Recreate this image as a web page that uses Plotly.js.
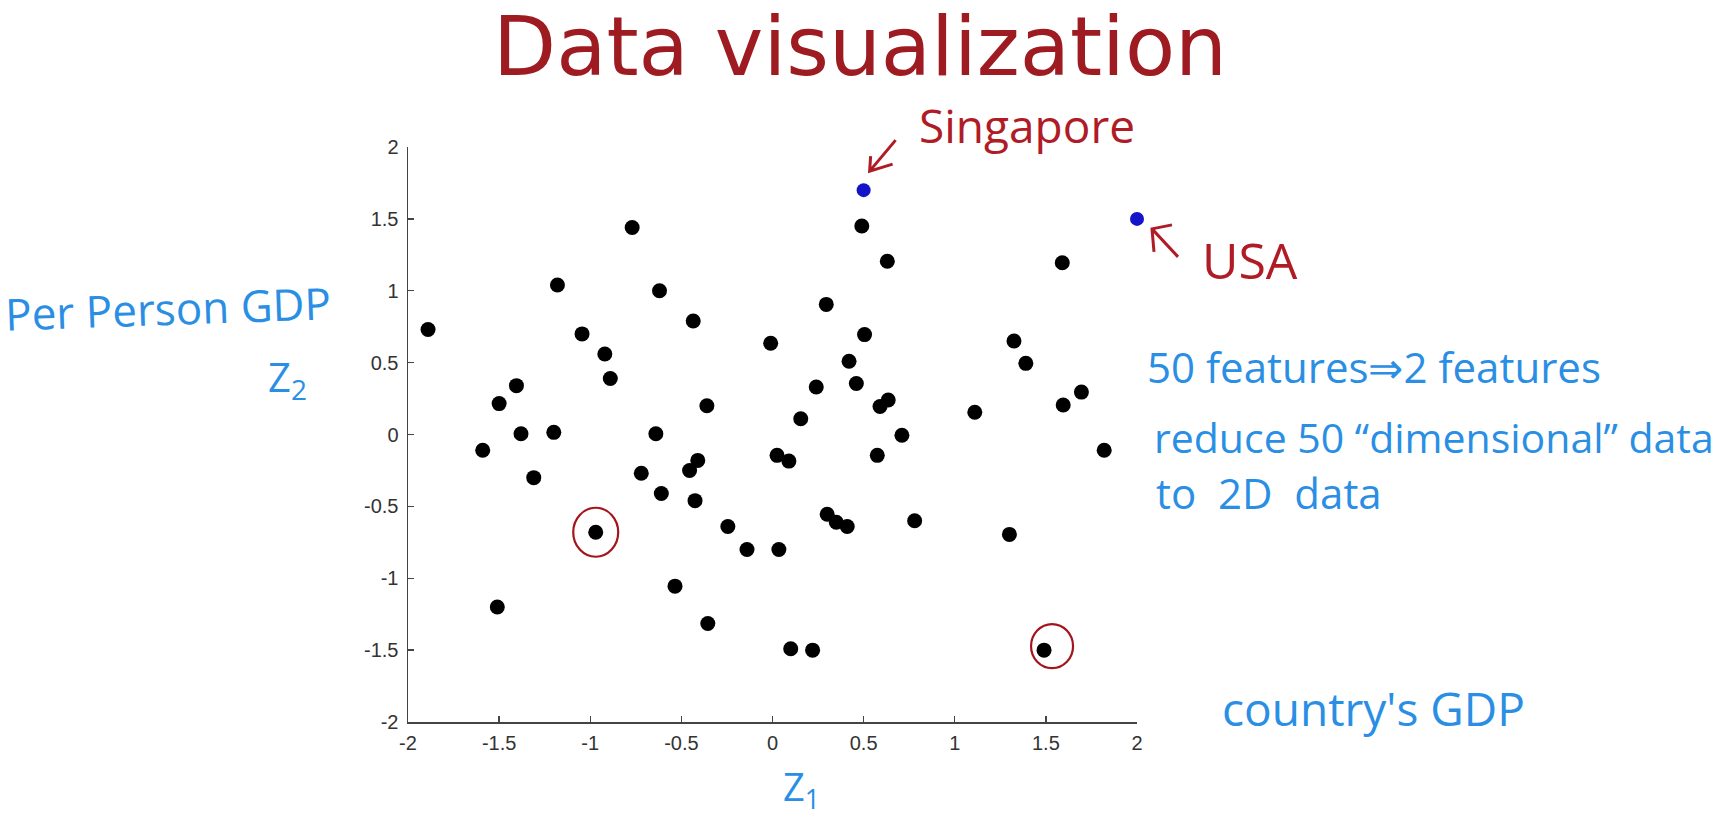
<!DOCTYPE html>
<html>
<head>
<meta charset="utf-8">
<script src="https://cdn.plot.ly/plotly-3.0.1.min.js"></script>
<style>html,body{margin:0;padding:0;background:#fff;}#chart{width:1726px;height:819px;}</style>
</head>
<body>
<div id="chart"></div>
<script>
// Data: reduced 2D coordinates (z1, z2) of countries
const z1 = [-1.89,-0.77,-1.18,-0.62,-0.435,-1.045,-0.92,-0.89,-1.405,-1.50,-0.36,-0.01,-1.38,-1.20,-0.64,-1.59,-1.31,-0.72,-0.41,-0.455,-0.61,-0.425,-0.97,-0.245,-0.14,-1.51,-0.535,-0.355,0.49,0.63,1.59,0.295,0.505,0.42,0.46,0.24,0.155,0.635,0.59,1.11,1.325,1.39,1.595,1.695,0.71,0.025,0.09,0.575,1.82,0.30,0.35,0.41,0.78,1.30,0.035,0.10,0.22,1.49];
const z2 = [0.73,1.44,1.04,1.00,0.79,0.70,0.56,0.39,0.34,0.215,0.20,0.635,0.005,0.015,0.005,-0.11,-0.30,-0.27,-0.18,-0.25,-0.41,-0.46,-0.68,-0.64,-0.80,-1.20,-1.055,-1.315,1.45,1.205,1.195,0.905,0.695,0.51,0.355,0.33,0.11,0.24,0.195,0.155,0.65,0.495,0.205,0.295,-0.005,-0.145,-0.185,-0.145,-0.11,-0.555,-0.61,-0.64,-0.60,-0.695,-0.80,-1.49,-1.50,-1.50];
const highlightNames = ["Singapore", "USA"];
const highlightZ1 = [0.5, 2.0];
const highlightZ2 = [1.7, 1.5];
const circledIdx = [22, 57];
const axisRange = [-2, 2];
const tickVals = [-2,-1.5,-1,-0.5,0,0.5,1,1.5,2];
const tickText = ["-2","-1.5","-1","-0.5","0","0.5","1","1.5","2"];

const blue = "#2a8fe4";
const red = "#b01c26";
const hand = "Open Sans, sans-serif";

const traces = [
  {x: z1, y: z2, type: "scatter", mode: "markers", cliponaxis: false,
   marker: {color: "#000", size: 15, line: {width: 0}}, hoverinfo: "x+y"},
  {x: highlightZ1, y: highlightZ2, text: highlightNames, type: "scatter", mode: "markers", cliponaxis: false,
   marker: {color: "#1414c8", size: 14, line: {width: 0}}, hoverinfo: "text"}
];

function P(px){ return (px - 408) / 729; }
function Q(py){ return (722 - py) / 575; }
// data value -> paper fraction (axes span the whole plot area)
function toPaper(v){ return (v - axisRange[0]) / (axisRange[1] - axisRange[0]); }

const annotations = [
  {text: "Data visualization", xref: "paper", yref: "paper", x: P(860), y: Q(46), xanchor: "center", yanchor: "middle",
   showarrow: false, font: {family: "DejaVu Sans, sans-serif", size: 82, color: "#9d1b21"}},
  {text: "Per Person GDP", xref: "paper", yref: "paper", x: P(2), y: Q(308), xanchor: "left", yanchor: "middle",
   showarrow: false, textangle: -2, font: {family: hand, size: 44, color: blue}},
  {text: "Z<sub>2</sub>", xref: "paper", yref: "paper", x: P(287), y: Q(378), xanchor: "center", yanchor: "middle",
   showarrow: false, font: {family: hand, size: 40, color: blue}},
  {text: "50 features\u21d22 features", xref: "paper", yref: "paper", x: P(1145), y: Q(366), xanchor: "left", yanchor: "middle",
   showarrow: false, font: {family: hand, size: 42, color: blue}},
  {text: "reduce 50 \u201cdimensional\u201d data", xref: "paper", yref: "paper", x: P(1152), y: Q(437), xanchor: "left", yanchor: "middle",
   showarrow: false, font: {family: hand, size: 41, color: blue}},
  {text: "to  2D  data", xref: "paper", yref: "paper", x: P(1154), y: Q(492), xanchor: "left", yanchor: "middle",
   showarrow: false, font: {family: hand, size: 42, color: blue}},
  {text: "country's GDP", xref: "paper", yref: "paper", x: P(1220), y: Q(708), xanchor: "left", yanchor: "middle",
   showarrow: false, font: {family: hand, size: 46, color: blue}},
  {text: "Z<sub>1</sub>", xref: "paper", yref: "paper", x: P(801), y: Q(788), xanchor: "center", yanchor: "middle",
   showarrow: false, font: {family: hand, size: 38, color: blue}},
  {text: highlightNames[0], xref: "paper", yref: "paper", x: P(1027), y: Q(125), xanchor: "center", yanchor: "middle",
   showarrow: false, font: {family: hand, size: 46, color: red}},
  {text: highlightNames[1], xref: "paper", yref: "paper", x: P(1250), y: Q(260), xanchor: "center", yanchor: "middle",
   showarrow: false, font: {family: hand, size: 50, color: red}}
];

// hand-drawn arrows, in pixels relative to the pointed-at marker (y up)
const arrowSpec = [
  {tail: [32, 50], head: [6, 19], b1: [7, 34], b2: [29, 26]},
  {tail: [41, -38], head: [15, -10], b1: [35, -6], b2: [17, -33]}
];
const arrowShapes = arrowSpec.map((a, k) => ({
  type: "path", xref: "paper", yref: "paper", xsizemode: "pixel", ysizemode: "pixel",
  xanchor: toPaper(highlightZ1[k]), yanchor: toPaper(highlightZ2[k]),
  path: `M${a.tail[0]},${a.tail[1]} L${a.head[0]},${a.head[1]} M${a.b1[0]},${a.b1[1]} L${a.head[0]},${a.head[1]} L${a.b2[0]},${a.b2[1]}`,
  line: {color: red, width: 3}
}));

const circleSpec = [{dx: 0, dy: 0, w: 45, h: 49}, {dx: 8, dy: 4, w: 42, h: 44}];
const circleShapes = circledIdx.map((idx, k) => ({
  type: "circle", xref: "x", yref: "y", xsizemode: "pixel", ysizemode: "pixel",
  xanchor: z1[idx], yanchor: z2[idx],
  x0: circleSpec[k].dx - circleSpec[k].w / 2, x1: circleSpec[k].dx + circleSpec[k].w / 2,
  y0: circleSpec[k].dy - circleSpec[k].h / 2, y1: circleSpec[k].dy + circleSpec[k].h / 2,
  line: {color: "#a3141c", width: 2.2}
}));

const axisCommon = {
  range: axisRange, showgrid: false, zeroline: false, showline: true, linecolor: "#444", linewidth: 1.5,
  ticks: "inside", ticklen: 6, tickwidth: 1.3, tickcolor: "#444", tickvals: tickVals, ticktext: tickText,
  tickfont: {family: "Liberation Sans, Arial, sans-serif", size: 20, color: "#333"}, mirror: false, fixedrange: true
};

const layout = {
  width: 1726, height: 819,
  margin: {l: 408, r: 589, t: 147, b: 97},
  paper_bgcolor: "#fff", plot_bgcolor: "#fff",
  showlegend: false,
  xaxis: Object.assign({}, axisCommon, {ticklabelstandoff: 2}),
  yaxis: Object.assign({}, axisCommon, {ticklabelstandoff: 4}),
  annotations: annotations,
  shapes: circleShapes.concat(arrowShapes)
};

Plotly.newPlot("chart", traces, layout, {displayModeBar: false, staticPlot: true});
</script>
</body>
</html>
